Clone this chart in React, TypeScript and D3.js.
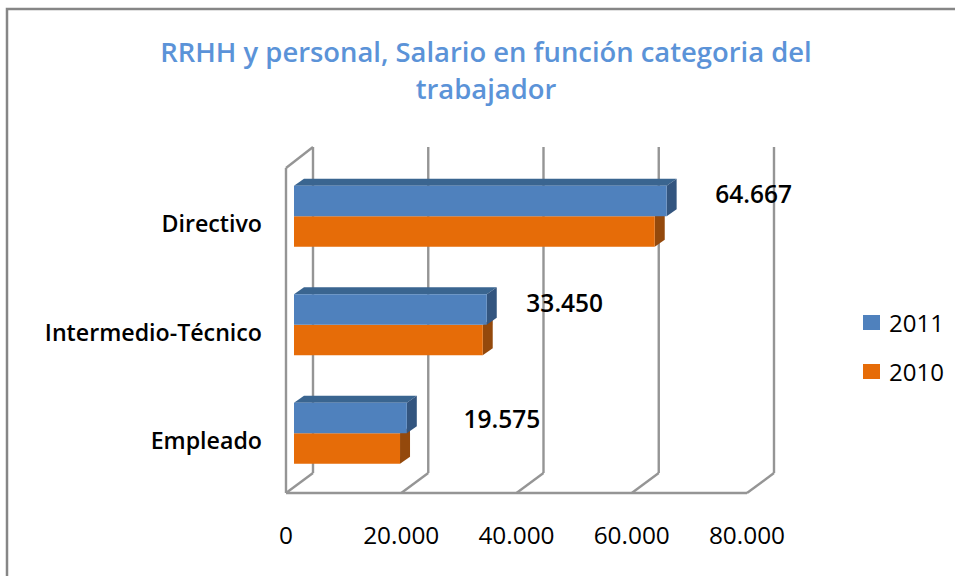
import React from "react";
import * as d3 from "d3";

const categories = ["Directivo", "Intermedio-Técnico", "Empleado"];
const values2011 = [64667, 33450, 19575];
const values2010 = [62600, 32750, 18400];
const dataLabels = ["64.667", "33.450", "19.575"];
const ticks = [0, 20000, 40000, 60000, 80000];
const tickLabels = ["0", "20.000", "40.000", "60.000", "80.000"];
const titleLines = ["RRHH y personal, Salario en función categoria del", "trabajador"];
const legendItems = ["2011", "2010"];

const BLUE = "#4f81bd", BLUE_TOP = "#3a6590", BLUE_SIDE = "#33557f";
const ORANGE = "#e66c08", ORANGE_SIDE = "#94490c";
const GRID = "#959595";
const FONT = "'Open Sans', sans-serif";

export default function App() {
  const x = d3.scaleLinear().domain([0, 80000]).range([286, 747]);
  const xBar = d3.scaleLinear().domain([0, 80000]).range([294, 755]);
  const y = d3.scaleBand<string>().domain(categories).range([162, 487.5]);
  const wallDx = 27, wallDy = -20, floorY = 493, topY = 147;
  const barDx = 10, barDy = -7, barH = 30.5;
  const labelDx = [87, 78, 95];
  const labelDy = [-21, -21, -13];

  const box = (x0: number, x1: number, top: number, f: string, t: string, s: string, showTop: boolean, key: string) => (
    <g key={key}>
      {showTop && <polygon fill={t} points={`${x0},${top} ${x0 + barDx},${top + barDy} ${x1 + barDx},${top + barDy} ${x1},${top}`} />}
      <polygon fill={s} points={`${x1},${top} ${x1 + barDx},${top + barDy} ${x1 + barDx},${top + barDy + barH} ${x1},${top + barH}`} />
      <rect x={x0} y={top} width={x1 - x0} height={barH} fill={f} />
    </g>
  );

  return (
    <svg width={955} height={576} style={{ position: "absolute", left: 0, top: 0, background: "#fff" }}>
      <path d="M7,576 V9 H955" fill="none" stroke="#868686" strokeWidth={2.5} />
      {titleLines.map((t, i) => (
        <text key={t} x={486} y={62 + i * 37} textAnchor="middle" fontFamily={FONT} fontWeight={600} fontSize={27.4} fill="#5b93d8">{t}</text>
      ))}
      <g stroke={GRID} strokeWidth={2.4} fill="none">
        <line x1={x(0)} x2={x(0)} y1={168} y2={floorY} />
        <line x1={x(0)} x2={x(0) + wallDx} y1={168} y2={topY} />
        <line x1={x(0)} x2={x(80000)} y1={floorY} y2={floorY} />
        {ticks.map(v => (
          <g key={v}>
            <line x1={x(v) + wallDx} x2={x(v) + wallDx} y1={topY} y2={floorY + wallDy} />
            <line x1={x(v)} x2={x(v) + wallDx} y1={floorY} y2={floorY + wallDy} />
          </g>
        ))}
      </g>
      {categories.map((c, i) => {
        const mid = (y(c) as number) + y.bandwidth() / 2;
        return (
          <g key={c}>
            {box(xBar(0), xBar(values2010[i]), mid, ORANGE, ORANGE_SIDE, ORANGE_SIDE, false, "o")}
            {box(xBar(0), xBar(values2011[i]), mid - barH, BLUE, BLUE_TOP, BLUE_SIDE, true, "b")}
            <text x={262} y={mid + 16} textAnchor="end" fontFamily={FONT} fontWeight={600} fontSize={23.2} fill="#000">{c}</text>
            <text x={xBar(values2011[i]) + labelDx[i]} y={mid + labelDy[i]} dy={8} textAnchor="middle" fontFamily={FONT} fontWeight={600} fontSize={24.5} fill="#000">{dataLabels[i]}</text>
          </g>
        );
      })}
      {ticks.map((v, i) => (
        <text key={v} x={x(v)} y={544} textAnchor="middle" fontFamily={FONT} fontSize={24.4} fill="#000">{tickLabels[i]}</text>
      ))}
      {legendItems.map((l, i) => (
        <g key={l}>
          <rect x={863} y={315 + i * 49} width={17} height={15} fill={i === 0 ? BLUE : ORANGE} />
          <text x={889} y={332 + i * 48.5} fontFamily={FONT} fontSize={24} fill="#000">{l}</text>
        </g>
      ))}
    </svg>
  );
}
